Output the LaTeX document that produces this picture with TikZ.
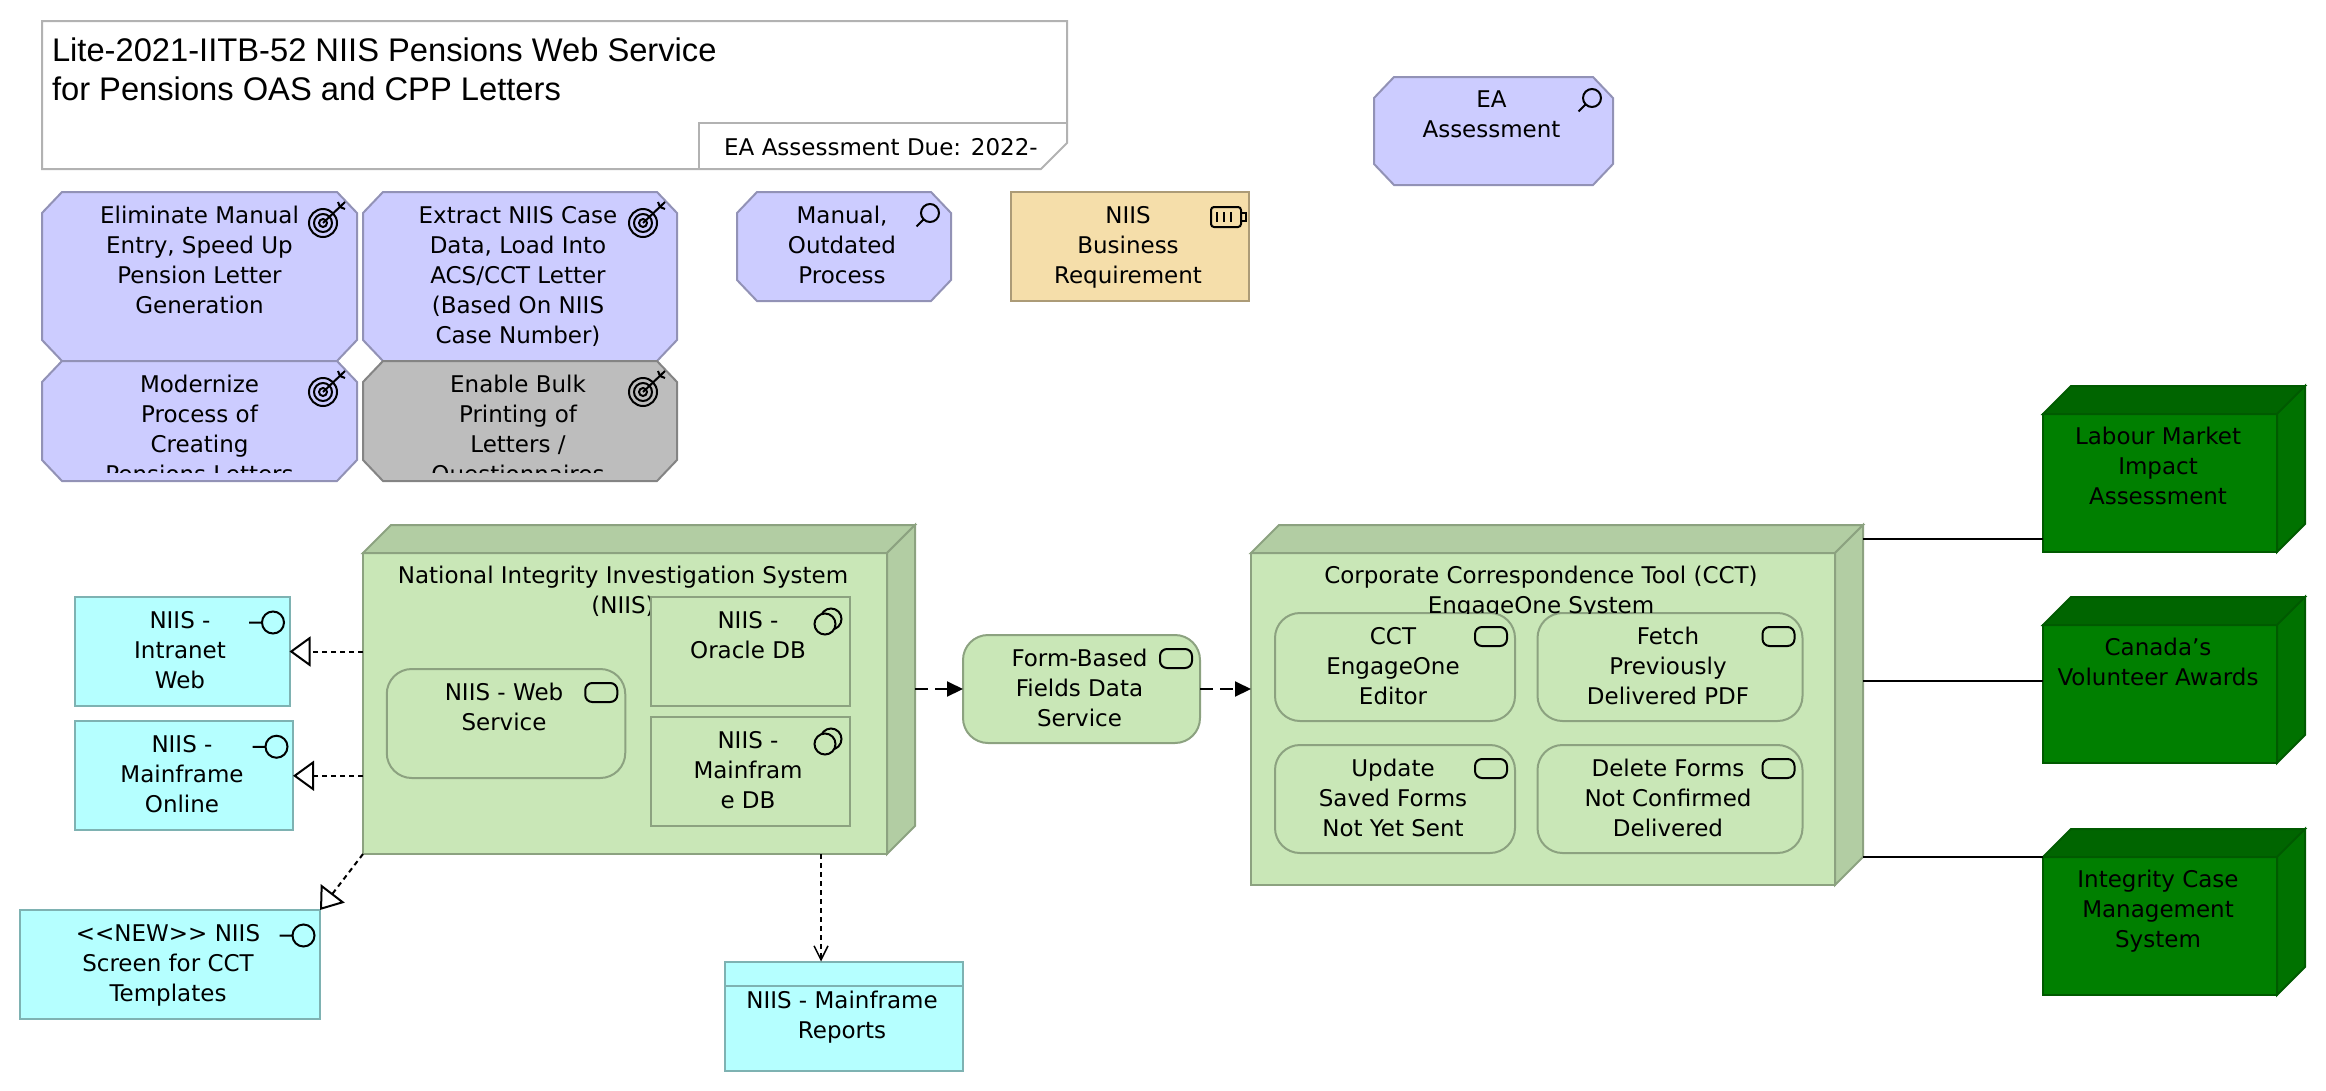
\documentclass[tikz,border=0pt]{standalone}
\usepackage{fontspec}
\setmainfont{DejaVu Sans}
\newfontfamily\titlefont{Liberation Sans}
\usetikzlibrary{positioning,arrows.meta}

\definecolor{goalFill}{HTML}{CCCCFF}
\definecolor{goalLine}{HTML}{9292B6}
\definecolor{greyFill}{HTML}{BDBDBD}
\definecolor{greyLine}{HTML}{848484}
\definecolor{reqFill}{HTML}{F5DEAA}
\definecolor{reqLine}{HTML}{AC9B77}
\definecolor{appFill}{HTML}{B5FFFF}
\definecolor{appLine}{HTML}{7EB2B2}
\definecolor{techFill}{HTML}{C9E7B7}
\definecolor{techLine}{HTML}{8CA280}
\definecolor{techSide}{HTML}{B2CDA3}
\definecolor{greenFill}{HTML}{007F00}
\definecolor{greenLine}{HTML}{005A00}
\definecolor{greenSide}{HTML}{007200}
\definecolor{greenTop}{HTML}{006500}
\definecolor{noteLine}{HTML}{B2B2B2}

\def\sideWidth{28}
\def\sideHeight{28}
\def\chamferX{20}
\def\chamferY{21}

\tikzset{
    every node/.style = {inner sep = 0pt, outer sep = 0pt},
    basebox/.style = {line width = 2pt, minimum width = #1},
    goalbox/.style = {basebox = #1, rectangle},
    appbox/.style = {basebox = #1, minimum height = 109pt, rectangle, draw = appLine, fill = appFill},
    techbox/.style = {basebox = #1, rectangle, draw = techLine, fill = techFill},
    svcbox/.style = {techbox = #1, minimum height = 108pt, rounded corners = 25pt},
    greenbox/.style = {basebox = 234pt, minimum height = 138pt, rectangle, draw = greenLine, fill = greenFill},
    boxtext/.style = {font = \fontsize{23}{30}\selectfont, align = center, text = black, xshift = -2pt},
    realize/.style = {line width = 2pt, dash pattern = on 5pt off 4pt,
        -{Triangle[open, fill = white, length = 21pt, width = 30pt]}},
    flow/.style = {line width = 2pt, dash pattern = on 13pt off 7pt, -{Triangle[length = 16pt, width = 15pt]}},
    access/.style = {line width = 1.5pt, dash pattern = on 5pt off 4pt, -{Straight Barb[length = 14pt, width = 14pt]}},
    assoc/.style = {line width = 2pt},
    icon/.style = {line width = 2pt, draw = black},
    goalicon/.pic = {
        \draw [icon] (-34,31) circle [radius = 14];
        \draw [icon] (-34,31) circle [radius = 9];
        \draw [icon] (-34,31) circle [radius = 4];
        \draw [icon] (-34,31) -- ++(22,-21) ++(-7,0) -- ++(2,5) -- ++(5,2);
    },
    lensicon/.pic = {
        \draw [icon] (-21,21) circle [radius = 9] (-27.5,27.5) -- ++(-7,7);
    },
    faceicon/.pic = {
        \draw [icon] (-16.5,25.5) circle [radius = 11] (-27.5,25.5) -- ++(-13,0);
    },
    svcicon/.pic = {
        \draw [icon, rounded corners = 7pt] (-40,14) rectangle (-8,33);
    },
    softicon/.pic = {
        \draw [icon] (-18.5,22) circle [radius = 10.5];
        \draw [icon, fill = techFill] (-24.5,27) circle [radius = 10.5];
    },
    reqicon/.pic = {
        \draw [icon, rounded corners = 3pt] (-38,15) rectangle (-8,35);
        \draw [icon] (-8,21) -- ++(5,0) -- ++(0,8) -- ++(-5,0);
        \draw [icon] (-32,20) -- ++(0,10) (-25,20) -- ++(0,10) (-18,20) -- ++(0,10);
    },
}

% cut corners of a motivation box
\newcommand{\chamferFace}[3]{
    \filldraw [line width = 2pt, draw = #2, fill = #3]
    ([shift = {(\chamferX,0)}]#1.north west) -- ([shift = {(-\chamferX,0)}]#1.north east)
    -- ([shift = {(0,\chamferY)}]#1.north east) -- ([shift = {(0,-\chamferY)}]#1.south east)
    -- ([shift = {(-\chamferX,0)}]#1.south east) -- ([shift = {(\chamferX,0)}]#1.south west)
    -- ([shift = {(0,-\chamferY)}]#1.south west) -- ([shift = {(0,\chamferY)}]#1.north west) -- cycle;
}

% top and right faces of a device
\newcommand{\deviceFaces}[4]{
    \filldraw [line width = 2pt, draw = #2, fill = #4]
    (#1.north west) -- ++(\sideWidth,-\sideHeight)
    -- ([shift = {(\sideWidth,-\sideHeight)}]#1.north east)
    -- (#1.north east) -- cycle;
    \filldraw [line width = 2pt, draw = #2, fill = #3]
    (#1.north east) -- ++(\sideWidth,-\sideHeight)
    -- ([shift = {(\sideWidth,-\sideHeight)}]#1.south east)
    -- (#1.south east) -- cycle;
}

\begin{document}
\begin{tikzpicture}[x = 1pt, y = -1pt]
    \useasboundingbox (0,0) rectangle (2326,1090);

    % title note
    \node (title) [minimum width = 1025pt, minimum height = 148pt] at (554.5,95) {};
    \draw [line width = 2pt, draw = noteLine]
    (title.north west) -- (title.north east) -- ++(0,122) -- ++(-26,26)
    -- (title.south west) -- cycle;
    \node (due) [minimum width = 368pt, minimum height = 46pt, anchor = south east] at (title.south east) {};
    \draw [line width = 2pt, draw = noteLine] (due.south west) |- (due.north east);
    \node (titletxt) [below right = 17pt and 10pt of title.north west,
        font = \titlefont\fontsize{32.7}{38.5}\selectfont, align = left]
    {Lite-2021-IITB-52 NIIS Pensions Web Service\\for Pensions OAS and CPP Letters};
    \node (duetxt) [boxtext] at (883,147) {EA Assessment Due: 2022-};

    % motivation boxes
    \node (goalA) [goalbox = 315pt, minimum height = 169pt] at (199.5,276.5) {};
    \node (goalB) [goalbox = 314pt, minimum height = 169pt] at (520,276.5) {};
    \node (goalC) [goalbox = 315pt, minimum height = 120pt] at (199.5,421) {};
    \node (goalD) [goalbox = 314pt, minimum height = 120pt] at (520,421) {};
    \node (manual) [goalbox = 214pt, minimum height = 109pt] at (844,246.5) {};
    \node (eaAssess) [goalbox = 239pt, minimum height = 108pt] at (1493.5,131) {};
    \node (bizReq) [basebox = 238pt, minimum height = 109pt, rectangle, draw = reqLine, fill = reqFill] at (1130,246.5) {};
    \foreach \goalName in {goalA,goalB,goalC,manual,eaAssess} {
        \chamferFace{\goalName}{goalLine}{goalFill}
    }
    \chamferFace{goalD}{greyLine}{greyFill}

    \node (goalAtxt) [boxtext, xshift = 2pt, below = 14pt of goalA.north] {Eliminate Manual\\Entry, Speed Up\\Pension Letter\\Generation};
    \node (goalBtxt) [boxtext, below = 14pt of goalB.north] {Extract NIIS Case\\Data, Load Into\\ACS/CCT Letter\\(Based On NIIS\\Case Number)};
    \begin{scope}
        \clip (goalC.north west) rectangle ([shift = {(0,-9)}]goalD.south east);
        \node (goalCtxt) [boxtext, xshift = 2pt, below = 14pt of goalC.north] {Modernize\\Process of\\Creating\\Pensions Letters};
        \node (goalDtxt) [boxtext, below = 14pt of goalD.north] {Enable Bulk\\Printing of\\Letters /\\Questionnaires};
    \end{scope}
    \node (manualtxt) [boxtext, below = 14pt of manual.north] {Manual,\\Outdated\\Process};
    \node (eaAssesstxt) [boxtext, below = 14pt of eaAssess.north] {EA\\Assessment};
    \node (bizReqtxt) [boxtext, below = 14pt of bizReq.north] {NIIS\\Business\\Requirement};

    \foreach \goalName in {goalA,goalB,goalC,goalD}
        \pic at (\goalName.north east) {goalicon};
    \pic at (manual.north east) {lensicon};
    \pic at (eaAssess.north east) {lensicon};
    \pic at (bizReq.north east) {reqicon};

    % NIIS device and its content
    \node (niis) [techbox = 524pt, minimum height = 301pt] at (625,703.5) {};
    \deviceFaces{niis}{techLine}{techSide}{techSide}
    \node (niistxt) [boxtext, below = 13pt of niis.north] {National Integrity Investigation System\\(NIIS)};
    \node (webSvc) [svcbox = 238.5pt, minimum height = 109pt] at (506,723.5) {};
    \node (oracle) [techbox = 199pt, minimum height = 109pt] at (750,651.5) {};
    \node (mainDb) [techbox = 199pt, minimum height = 109pt] at (750,771.5) {};
    \node (webSvctxt) [boxtext, below = 14pt of webSvc.north] {NIIS - Web\\Service};
    \node (oracletxt) [boxtext, below = 14pt of oracle.north] {NIIS -\\Oracle DB};
    \node (mainDbtxt) [boxtext, below = 14pt of mainDb.north] {NIIS -\\Mainfram\\e DB};
    \pic at (webSvc.north east) {svcicon};
    \pic at (oracle.north east) {softicon};
    \pic at (mainDb.north east) {softicon};

    % application boxes
    \node (intranet) [appbox = 215pt] at (182,651.5) {};
    \node (mainOnline) [appbox = 218pt] at (184,775.75) {};
    \node (screen) [appbox = 300pt] at (170,964.5) {};
    \node (reports) [appbox = 238pt] at (844,1016) {};
    \draw [line width = 2pt, draw = appLine] ([yshift = -24pt]reports.north west) -- ([yshift = -24pt]reports.north east);
    \node (intranettxt) [boxtext, below = 14pt of intranet.north] {NIIS -\\Intranet\\Web};
    \node (mainOnlinetxt) [boxtext, below = 14pt of mainOnline.north] {NIIS -\\Mainframe\\Online};
    \node (screentxt) [boxtext, below = 14pt of screen.north] {<{}<NEW>{}> NIIS\\Screen for CCT\\Templates};
    \node (reportstxt) [boxtext, below = 30pt of reports.north] {NIIS - Mainframe\\Reports};
    \pic at (intranet.north east) {faceicon};
    \pic at (mainOnline.north east) {faceicon};
    \pic at (screen.north east) {faceicon};

    % form service
    \node (form) [svcbox = 237pt] at (1081.5,689) {};
    \node (formtxt) [boxtext, below = 14pt of form.north] {Form-Based\\Fields Data\\Service};
    \pic at (form.north east) {svcicon};

    % CCT device and its content
    \node (cct) [techbox = 584pt, minimum height = 332pt] at (1543,719) {};
    \deviceFaces{cct}{techLine}{techSide}{techSide}
    \node (editor) [svcbox = 240pt] at (1395,667) {};
    \node (fetch) [svcbox = 265pt] at (1670,667) {};
    \node (update) [svcbox = 240pt] at (1395,799) {};
    \node (delete) [svcbox = 265pt] at (1670,799) {};
    \begin{scope}
        \clip (cct.north west) rectangle (cct.east |- editor.north);
        \node (ccttxt) [boxtext, below = 13pt of cct.north] {Corporate Correspondence Tool (CCT)\\EngageOne System};
    \end{scope}
    \node (editortxt) [boxtext, below = 14pt of editor.north] {CCT\\EngageOne\\Editor};
    \node (fetchtxt) [boxtext, below = 14pt of fetch.north] {Fetch\\Previously\\Delivered PDF};
    \node (updatetxt) [boxtext, below = 14pt of update.north] {Update\\Saved Forms\\Not Yet Sent};
    \node (deletetxt) [boxtext, below = 14pt of delete.north] {Delete Forms\\Not Confirmed\\Delivered};
    \foreach \svcName in {editor,fetch,update,delete}
        \pic at (\svcName.north east) {svcicon};

    % external systems
    \foreach \extName/\extY in {labour/483,canada/694,integrity/926} {
        \node (\extName) [greenbox] at (2160,\extY) {};
        \deviceFaces{\extName}{greenLine}{greenSide}{greenTop}
    }
    \node (labourtxt) [boxtext, below = 13pt of labour.north] {Labour Market\\Impact\\Assessment};
    \node (canadatxt) [boxtext, below = 13pt of canada.north] {Canada’s\\Volunteer Awards};
    \node (integritytxt) [boxtext, below = 13pt of integrity.north] {Integrity Case\\Management\\System};

    % connectors
    \coordinate (niisSide) at ([xshift = \sideWidth pt]niis.east);
    \coordinate (cctSide) at ([xshift = \sideWidth pt]cct.east);
    \coordinate (labourEnd) at ([yshift = 13pt]labour.south west);
    \coordinate (canadaEnd) at ([yshift = -56pt]canada.north west);
    \coordinate (reportsEnd) at ([xshift = -23pt]reports.north);

    \draw [realize] (niis.west |- intranet.east) -- (intranet.east);
    \draw [realize] (niis.west |- mainOnline.east) -- (mainOnline.east);
    \draw [realize] (niis.south west) -- (screen.north east);
    \draw [access] (reportsEnd |- niis.south) -- (reportsEnd);
    \draw [flow] (niisSide |- form.west) -- (form.west);
    \draw [flow] (form.east) -- (cct.west |- form.east);
    \draw [assoc] (cctSide |- labourEnd) -- (labourEnd);
    \draw [assoc] (cctSide |- canadaEnd) -- (canadaEnd);
    \draw [assoc] (cctSide |- integrity.north west) -- (integrity.north west);
\end{tikzpicture}
\end{document}
